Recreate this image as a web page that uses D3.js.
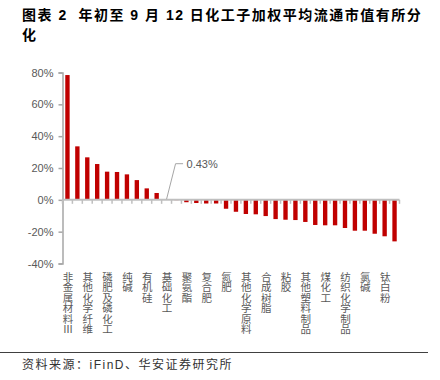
<!DOCTYPE html>
<html>
<head>
<meta charset="utf-8">
<script src="https://cdn.jsdelivr.net/npm/d3@7"></script>
<style>
  body { margin: 0; background: #fff; }
  svg text { font-family: "Liberation Sans", Arial, "Noto Sans CJK SC", sans-serif; }
</style>
</head>
<body>
<script>
// data (only every other category label is shown)
var labels = ["非金属材料Ⅲ", "", "其他化学纤维", "", "磷肥及磷化工", "", "纯碱", "", "有机硅", "",
  "基础化工", "", "聚氨酯", "", "复合肥", "", "氮肥", "", "其他化学原料", "",
  "合成树脂", "", "粘胶", "", "其他塑料制品", "", "煤化工", "", "纺织化学制品", "",
  "氯碱", "", "钛白粉", ""];
var values = [78.4, 33.6, 26.7, 22.5, 17.7, 17.5, 16.0, 12.4, 7.2, 4.3,
  0.43, -0.2, -1.5, -2.0, -2.3, -2.3, -5.6, -7.5, -8.9, -9.1,
  -10.2, -12.1, -12.5, -12.7, -13.9, -15.8, -16.0, -16.0, -17.7, -19.4,
  -19.4, -21.3, -22.9, -26.1];
var yTicks = [-40, -20, 0, 20, 40, 60, 80];
var noteIndex = 10;
var noteText = "0.43%";

var title1 = "图表 2  年初至 9 月 12 日化工子加权平均流通市值有所分";
var title2 = "化";
var source = "资料来源：iFinD、华安证券研究所";

var svgWidth = 440;
var svgHeight = 380;

var svg = d3.select("body")
  .append("svg")
  .attr("width", svgWidth)
  .attr("height", svgHeight);

// title
var titleG = svg.append("g")
  .attr("font-family", "'Noto Sans CJK SC', sans-serif")
  .attr("font-weight", "bold")
  .attr("font-size", 14)
  .attr("letter-spacing", 1.5)
  .attr("fill", "#000");
titleG.append("text").attr("x", 22).attr("y", 20).attr("xml:space", "preserve").text(title1);
titleG.append("text").attr("x", 22).attr("y", 40).text(title2);

// scales
var x = d3.scaleBand()
  .domain(d3.range(values.length))
  .range([62.5, 399.5])
  .paddingInner(0.56)
  .paddingOuter(0.28);

var y = d3.scaleLinear()
  .domain([-40, 80])
  .range([263.5, 72.5]);

var axisColor = "#bfbfbf";
var textColor = "#595959";

// y axis
var leftAxis = d3.axisLeft(y)
  .tickValues(yTicks)
  .tickSize(4)
  .tickPadding(5)
  .tickFormat(function(d) { return d + "%"; });

var yAxisG = svg.append("g")
  .attr("transform", "translate(62.5,0)")
  .call(leftAxis);
yAxisG.select(".domain").attr("stroke", "#a6a6a6").attr("stroke-width", 1.5);
yAxisG.selectAll(".tick line").attr("stroke", "#a6a6a6").attr("stroke-width", 1.5);
yAxisG.selectAll(".tick text")
  .attr("fill", textColor)
  .attr("font-size", 11)
  .attr("font-family", "'Liberation Sans', Arial, sans-serif");

// bars
svg.append("g")
  .selectAll("rect")
  .data(values)
  .enter()
  .append("rect")
  .attr("x", function(d, i) { return x(i); })
  .attr("width", x.bandwidth())
  .attr("y", function(d) { return y(Math.max(0, d)); })
  .attr("height", function(d) { return Math.abs(y(d) - y(0)); })
  .attr("fill", "#c00000");

// x axis line at zero with ticks on band boundaries
var gap = x.step() * x.paddingInner() / 2;
var xAxisG = svg.append("g");
xAxisG.append("line")
  .attr("x1", x.range()[0])
  .attr("x2", x.range()[1])
  .attr("y1", y(0))
  .attr("y2", y(0))
  .attr("stroke", axisColor)
  .attr("stroke-width", 2);
xAxisG.selectAll(".xtick")
  .data(d3.range(values.length + 1))
  .enter()
  .append("line")
  .attr("class", "xtick")
  .attr("x1", function(i) { return i < values.length ? x(i) - gap : x(i - 1) + x.bandwidth() + gap; })
  .attr("x2", function(i) { return i < values.length ? x(i) - gap : x(i - 1) + x.bandwidth() + gap; })
  .attr("y1", y(0))
  .attr("y2", y(0) + 4)
  .attr("stroke", axisColor)
  .attr("stroke-width", 1.5);

// category labels, vertical, below plot
svg.append("g")
  .selectAll("text")
  .data(labels)
  .enter()
  .append("text")
  .attr("x", function(d, i) { return x(i) + x.bandwidth() / 2; })
  .attr("y", y(-40) + 8)
  .attr("writing-mode", "vertical-rl")
  .attr("font-family", "'Noto Sans CJK SC', sans-serif")
  .attr("font-size", 10.5)
  .attr("fill", textColor)
  .text(function(d) { return d; });

// annotation for the small bar
var nx = x(noteIndex) + x.bandwidth() / 2;
var ny = y(values[noteIndex]);
var ly = y(22.7);
svg.append("path")
  .attr("d", "M" + nx + "," + ny + "L" + (nx + 9) + "," + ly + "H" + (nx + 16.5))
  .attr("fill", "none")
  .attr("stroke", "#a6a6a6")
  .attr("stroke-width", 1);
svg.append("text")
  .attr("x", nx + 20)
  .attr("y", ly + 4)
  .attr("font-size", 11)
  .attr("fill", textColor)
  .text(noteText);

// footer rule and source
svg.append("line")
  .attr("x1", 0).attr("x2", 428)
  .attr("y1", 352.5).attr("y2", 352.5)
  .attr("stroke", "#404040")
  .attr("stroke-width", 1);
svg.append("text")
  .attr("x", 22)
  .attr("y", 369)
  .attr("font-family", "'Noto Sans CJK SC', sans-serif")
  .attr("font-size", 12)
  .attr("letter-spacing", 1.5)
  .attr("fill", "#333")
  .text(source);
</script>
</body>
</html>
